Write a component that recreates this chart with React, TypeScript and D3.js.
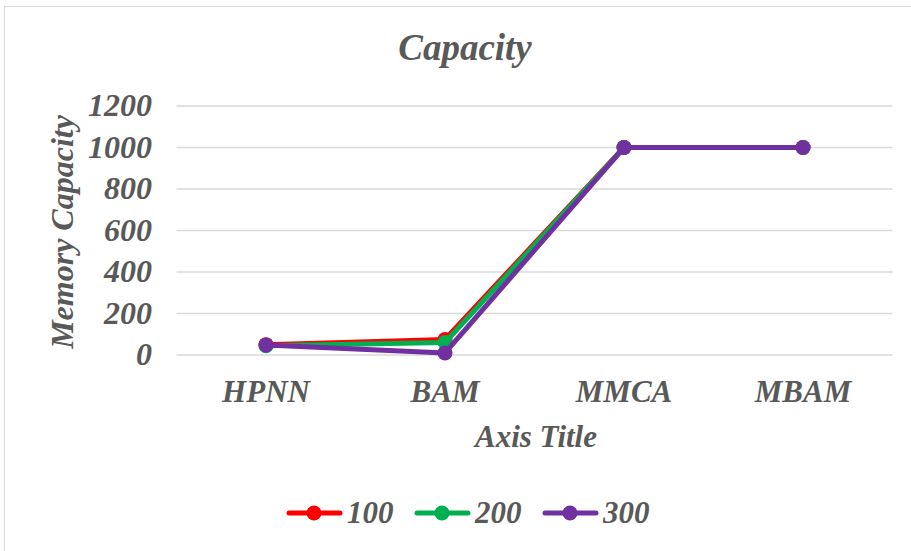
import React from "react";
import * as d3 from "d3";

const categories = ["HPNN", "BAM", "MMCA", "MBAM"];
const seriesNames = ["100", "200", "300"];
const seriesColors = ["#FF0000", "#00B050", "#7030A0"];
const values100 = [50, 75, 1000, 1000];
const values200 = [45, 60, 1000, 1000];
const values300 = [48, 10, 1000, 1000];
const yTicks = [0, 200, 400, 600, 800, 1000, 1200];

const W = 911;
const H = 551;
const FONT = "'Liberation Serif', 'Times New Roman', serif";
const TXT = "#595959";

export default function App() {
  const x = d3.scaleBand<string>().domain(categories).range([176.5, 892.5]);
  const y = d3.scaleLinear().domain([0, 1200]).range([355, 106]);
  const series = [values100, values200, values300];
  const line = d3
    .line<number>()
    .x((_, i) => (x(categories[i]) as number) + x.bandwidth() / 2)
    .y((d) => y(d));

  const legendX = [287, 415, 543];
  const txt = { fontFamily: FONT, fontWeight: "bold", fontStyle: "italic", fill: TXT } as const;
  return (
    <svg width={W} height={H} style={{ position: "absolute", left: 0, top: 0 }}>
      <rect x={0} y={0} width={W} height={H} fill="#fff" />
      <rect x={4.5} y={6.5} width={W + 10} height={H + 10} fill="#fff" stroke="#D9D9D9" strokeWidth={1} />
      <text x={465} y={60} textAnchor="middle" fontSize={37} {...txt}>
        Capacity
      </text>
      {yTicks.map((t) => (
        <g key={t}>
          <line x1={176.5} x2={892.5} y1={y(t)} y2={y(t)} stroke="#D9D9D9" strokeWidth={1.5} />
          <text x={152} y={y(t) + 10} textAnchor="end" fontSize={32} {...txt}>
            {t}
          </text>
        </g>
      ))}
      {categories.map((c) => (
        <text key={c} x={(x(c) as number) + x.bandwidth() / 2} y={402} textAnchor="middle" fontSize={31} {...txt}>
          {c}
        </text>
      ))}
      <text x={536} y={447} textAnchor="middle" fontSize={31} {...txt}>
        Axis Title
      </text>
      <text transform="translate(73,232) rotate(-90)" textAnchor="middle" fontSize={32} {...txt}>
        Memory Capacity
      </text>
      {series.map((s, si) => (
        <g key={si}>
          <path d={line(s) || ""} fill="none" stroke={seriesColors[si]} strokeWidth={5} strokeLinejoin="round" />
          {s.map((v, i) => (
            <circle key={i} cx={(x(categories[i]) as number) + x.bandwidth() / 2} cy={y(v)} r={7.5} fill={seriesColors[si]} />
          ))}
        </g>
      ))}
      {seriesNames.map((n, i) => (
        <g key={n}>
          <line x1={legendX[i] + 2} x2={legendX[i] + 53} y1={513} y2={513} stroke={seriesColors[i]} strokeWidth={5} strokeLinecap="round" />
          <circle cx={legendX[i] + 27} cy={513} r={7.5} fill={seriesColors[i]} />
          <text x={legendX[i] + 60} y={523} fontSize={31} {...txt}>
            {n}
          </text>
        </g>
      ))}
    </svg>
  );
}
